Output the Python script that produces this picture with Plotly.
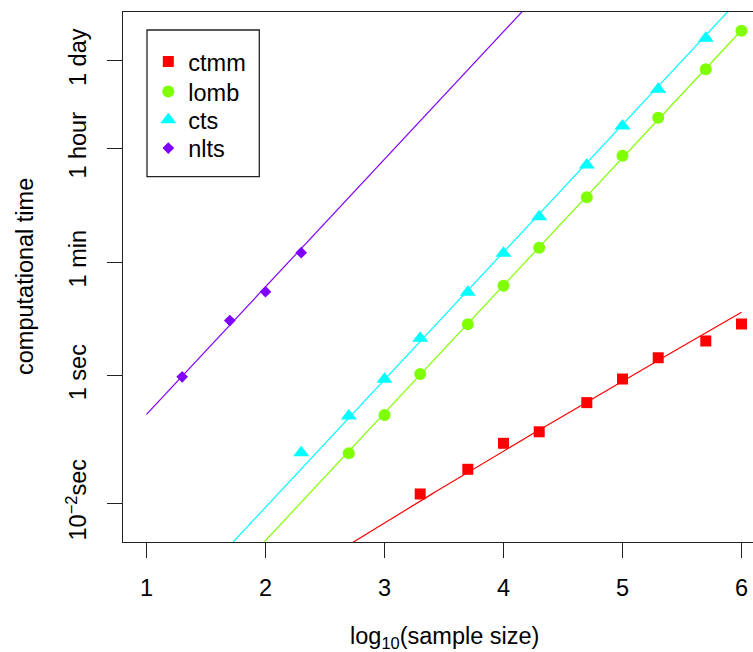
import numpy as np
import plotly.graph_objects as go

# ---- data (x = log10 sample size, y = computational time in seconds) ----
series_names = ["ctmm", "lomb", "cts", "nlts"]
series_colors = ["#FF0000", "#80FF00", "#00FFFF", "#8000FF"]
series_symbols = ["square", "circle", "triangle-up", "diamond"]
series_sizes = [11, 12, 14, 9]

ctmm_x = [3.3, 3.7, 4.0, 4.3, 4.7, 5.0, 5.3, 5.7, 6.0]
ctmm_t = [0.0140, 0.0341, 0.0871, 0.132, 0.378, 0.887, 1.91, 3.50, 6.46]

lomb_x = [2.7, 3.0, 3.3, 3.7, 4.0, 4.3, 4.7, 5.0, 5.3, 5.7, 6.0]
lomb_t = [0.0608, 0.242, 1.064, 6.40, 25.8, 101.4, 625, 2805, 11070, 63530, 255900]

cts_x = [2.3, 2.7, 3.0, 3.3, 3.7, 4.0, 4.3, 4.7, 5.0, 5.3, 5.7]
cts_t = [0.062, 0.233, 0.879, 3.85, 20.3, 82.8, 310, 2009, 8204, 30830, 194100]

nlts_x = [1.3, 1.7, 2.0, 2.3]
nlts_t = [0.96, 7.3, 20.7, 84.7]

# fitted scaling laws: log10(t) = offset + exponent*X + logterm*log10(X)
fit_offset = [-5.784, -6.585, -6.063, -2.607]
fit_exponent = [1, 2, 2, 2]
fit_logterm = [1, 0, 0, 0]
fit_xrange = [1, 6]

ytick_vals = [0.01, 1, 60, 3600, 86400]
ytick_text = ["10<sup>\u22122</sup>sec", "1 sec", "1 min", "1 hour", "1 day"]
xtick_vals = [1, 2, 3, 4, 5, 6]

xs = [ctmm_x, lomb_x, cts_x, nlts_x]
ts = [ctmm_t, lomb_t, cts_t, nlts_t]

FONT = "Liberation Sans, Arial, Helvetica, sans-serif"
FS = 23.5
fig = go.Figure()

xgrid = np.linspace(fit_xrange[0], fit_xrange[1], 201)
for i in range(4):
    L = fit_offset[i] + fit_exponent[i] * xgrid + fit_logterm[i] * np.log10(xgrid)
    fig.add_trace(go.Scatter(x=xgrid, y=10 ** L, mode="lines",
                             line=dict(color=series_colors[i], width=1.2),
                             showlegend=False, hoverinfo="skip"))

legend_ids = ["legend", "legend2", "legend3", "legend4"]
for i in range(4):
    fig.add_trace(go.Scatter(x=xs[i], y=ts[i], mode="markers", name=series_names[i],
                             legend=legend_ids[i],
                             marker=dict(color=series_colors[i], symbol=series_symbols[i],
                                         size=series_sizes[i], line=dict(width=0))))

W, H = 753, 652
ml, mt, mb, mr = 123, 12, 110, 0
pw, ph = W - ml - mr, H - mt - mb

def px2x(px):
    return (px - ml) / pw

def py2y(py):
    return (H - mb - py) / ph

axis_common = dict(showgrid=False, zeroline=False, showline=True, linecolor="#222",
                   linewidth=1.3, ticks="outside", ticklen=15, tickwidth=1.3,
                   tickcolor="#222", tickfont=dict(family=FONT, size=FS, color="black"),
                   automargin=False)

fig.update_xaxes(range=[0.8025, 6.0966], tickvals=xtick_vals, mirror=True,
                 ticklabelstandoff=10, **axis_common)
fig.update_yaxes(type="log", range=[-2.607, 5.701], tickvals=ytick_vals, ticktext=ytick_text,
                 tickangle=-90, mirror=False, ticklabelstandoff=11, **axis_common)

fig.add_shape(type="rect", xref="paper", yref="paper",
              x0=px2x(147), x1=px2x(259.3), y0=py2y(176.7), y1=py2y(30),
              line=dict(color="#222", width=1.3), fillcolor="rgba(0,0,0,0)")

fig.add_annotation(text="computational time", xref="paper", yref="paper",
                   x=px2x(25), y=0.5, textangle=-90, showarrow=False,
                   xanchor="center", yanchor="middle",
                   font=dict(family=FONT, size=FS, color="black"))
fig.add_annotation(text="log<sub>10</sub>(sample size)", xref="paper", yref="paper",
                   x=px2x(444), y=py2y(637), showarrow=False,
                   xanchor="center", yanchor="middle",
                   font=dict(family=FONT, size=FS, color="black"))

legend_rows_px = [61.7, 91.7, 120, 148.3]
legend_layout = {}
for i, lid in enumerate(legend_ids):
    legend_layout[lid] = dict(x=px2x(148.3), y=py2y(legend_rows_px[i]),
                              xanchor="left", yanchor="middle",
                              bgcolor="rgba(0,0,0,0)", borderwidth=0,
                              font=dict(family=FONT, size=FS, color="black"),
                              itemsizing="trace")

fig.update_layout(
    width=W, height=H,
    margin=dict(l=ml, r=mr, t=mt, b=mb, pad=0),
    paper_bgcolor="white", plot_bgcolor="white",
    font=dict(family=FONT, color="black"),
    hovermode=False,
    **legend_layout,
)

fig.write_html("out.html", config={"displayModeBar": False},
               post_script="document.body.style.margin='0px';")
